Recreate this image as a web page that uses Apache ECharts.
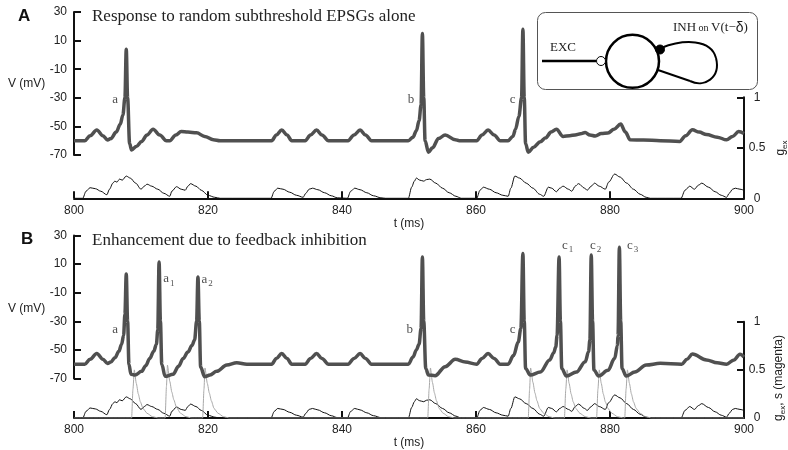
<!DOCTYPE html>
<html>
<head>
<meta charset="utf-8">
<script src="https://cdn.jsdelivr.net/npm/echarts@6/dist/echarts.min.js"></script>
<style>
  html, body { margin: 0; padding: 0; background: #fff; }
  #chart { width: 788px; height: 450px; }
</style>
</head>
<body>
<div id="chart"></div>
<script>
// time window and axis ranges
var tRange = [800, 900, 20];
var vRange = [-70, 30, 20];
var gRange = [0, 1, 0.5];

// V (mV) vs t (ms), panel A: EPSGs alone
var vTraceA = [
  [800, -60], [801.6, -60], [802.4, -56.5], [803.4, -52.5], [804.3, -56.5], [805.0, -59.5],
  [805.5, -58.5], [806.3, -54], [806.9, -48.5], [807.3, -42], [807.6, -30], [807.8, 4],
  [808.0, -30], [808.3, -62], [808.6, -66.5], [809.3, -64], [810.1, -60.5], [810.9, -56],
  [811.8, -52], [812.8, -56], [813.8, -60], [814.3, -60], [815.2, -56], [816.0, -53.5],
  [817.0, -54], [818.3, -54.5], [819.5, -57], [820.8, -59.3], [821.8, -60],
  [829.5, -60], [830.2, -56], [831.0, -52.5], [831.8, -56], [832.5, -60],
  [834.5, -60], [835.3, -56], [836.2, -52.5], [837.0, -56], [838.0, -60],
  [840.9, -60], [841.8, -56], [842.7, -52.5], [843.5, -56], [844.4, -60],
  [849.9, -60], [850.6, -57.5], [851.1, -53], [851.5, -46], [851.8, -35], [852.0, 15],
  [852.2, -30], [852.4, -60], [852.9, -68], [853.5, -65], [854.4, -58.5], [855.4, -56],
  [856.9, -59.3], [857.5, -60], [860.1, -60], [860.9, -56], [861.8, -52.5], [862.7, -56],
  [863.6, -60], [864.8, -60], [865.5, -57], [865.9, -52], [866.4, -43], [866.8, -30],
  [867.0, 18], [867.2, -30], [867.4, -62], [867.8, -68], [868.6, -64.5], [869.6, -60.7],
  [870.4, -58], [871.2, -54], [872.0, -52], [873.0, -57], [874.0, -56.5], [874.8, -56],
  [875.6, -55.2], [876.3, -54.3], [877.0, -56], [877.8, -56.7], [878.7, -55], [879.7, -54.6],
  [880.6, -52], [881.6, -48.4], [882.3, -54], [883.0, -59.4], [885.0, -59.5], [887.5, -60],
  [890.4, -60.5], [891.3, -56.5], [892.3, -52.4], [893.3, -54], [894.4, -55.7], [896.0, -57.5],
  [897.4, -59.4], [898.3, -57], [899.2, -53.6], [900, -55]
];

// V (mV) vs t (ms), panel B: with feedback inhibition
var vTraceB = [
  [800, -60], [801.6, -60], [802.4, -56.5], [803.4, -52.5], [804.3, -56.5], [805.0, -59.5],
  [805.5, -58.5], [806.1, -55.5], [806.7, -51], [807.1, -46], [807.4, -40], [807.6, -25],
  [807.8, 3], [808.0, -30], [808.2, -60], [808.5, -67], [809.1, -67.6], [810.1, -65],
  [810.7, -61], [811.3, -56], [811.9, -51], [812.3, -46], [812.5, -36], [812.7, 11.5],
  [812.9, -30], [813.1, -60], [813.6, -68.5], [814.8, -67], [815.6, -61.5], [816.3, -56],
  [817.0, -51.5], [817.6, -47], [818.0, -43], [818.3, -30], [818.5, 1], [818.7, -30],
  [818.9, -62], [819.5, -68.8], [820.3, -67.5], [821.3, -65], [822.8, -60.6], [824.3, -59],
  [825.8, -60], [829.5, -60], [830.2, -56], [831.0, -52.5], [831.8, -56], [832.5, -60],
  [834.5, -60], [835.3, -56], [836.2, -52.5], [837.0, -56], [838.0, -60],
  [840.9, -60], [841.8, -56], [842.7, -52.5], [843.5, -56], [844.4, -60],
  [849.9, -60], [850.6, -55], [851.1, -50], [851.5, -46], [851.8, -35], [852.0, 15],
  [852.2, -30], [852.5, -63], [852.9, -67.6], [853.9, -68], [855.4, -61.7], [856.9, -56.6],
  [858.4, -58.5], [860.1, -60], [860.9, -56], [861.8, -52.5], [862.7, -56], [863.6, -60],
  [864.8, -60], [865.6, -54], [866.3, -44.5], [866.7, -35], [867.0, 17.5], [867.2, -30],
  [867.4, -63], [868.1, -67.6], [869.6, -65.5], [871.0, -57], [871.6, -52], [871.9, -48],
  [872.1, -40], [872.4, 15], [872.6, -30], [872.8, -63], [873.5, -68.3], [875.0, -65.5],
  [876.3, -58.3], [876.8, -51.3], [877.0, -43], [877.2, 16.4], [877.4, -30], [877.6, -64],
  [878.3, -68.3], [879.7, -64.3], [880.7, -55.9], [881.1, -47], [881.2, -40], [881.4, 21.7],
  [881.6, -30], [881.8, -63], [882.4, -68.3], [883.7, -65.5], [885.4, -60.6], [887.5, -59.4],
  [890.7, -60], [891.5, -56.5], [892.3, -52.9], [894.4, -57], [896.0, -59], [897.4, -60],
  [898.5, -57], [899.4, -53], [900, -55]
];

// excitatory conductance g_ex (same input in A and B)
var gexTrace = [
  [800, 0], [801.3, 0], [801.8, 0.07], [802.4, 0.105], [803.2, 0.095], [804.0, 0.07],
  [804.9, 0.035], [805.3, 0.09], [805.8, 0.15], [806.1, 0.17], [806.4, 0.16], [806.8, 0.19],
  [807.2, 0.18], [807.8, 0.22], [808.4, 0.2], [809.2, 0.15], [810.0, 0.09], [810.5, 0.12],
  [810.9, 0.14], [811.6, 0.12], [812.5, 0.09], [813.4, 0.05], [814.3, 0.02], [814.6, 0.07],
  [815.3, 0.115], [816.0, 0.09], [816.6, 0.08], [817.0, 0.12], [817.4, 0.145], [818.2, 0.12],
  [819.0, 0.08], [820.0, 0.03], [821.0, 0.01], [821.8, 0],
  [829.4, 0], [829.9, 0.07], [830.4, 0.1], [831.2, 0.09], [832.2, 0.06], [833.2, 0.03],
  [834.2, 0.01], [834.6, 0.05], [835.1, 0.09], [835.6, 0.1], [836.4, 0.085], [837.4, 0.055],
  [838.4, 0.025], [839.3, 0.005], [840.8, 0], [841.3, 0.07], [841.9, 0.1], [842.7, 0.085],
  [843.7, 0.055], [844.7, 0.025], [845.8, 0.005], [846.5, 0],
  [849.9, 0], [850.4, 0.11], [850.8, 0.17], [851.1, 0.2], [851.6, 0.18], [852.2, 0.17],
  [852.6, 0.185], [853.1, 0.19], [854.0, 0.15], [855.0, 0.1], [856.0, 0.055], [857.0, 0.02],
  [857.8, 0], [860.1, 0], [860.6, 0.08], [861.1, 0.11], [862.0, 0.09], [863.0, 0.055],
  [864.0, 0.03], [864.8, 0.02], [865.2, 0.1], [865.8, 0.22], [866.5, 0.2], [867.5, 0.15],
  [868.5, 0.1], [869.5, 0.04], [870.1, 0.02], [870.8, 0.11], [871.3, 0.1], [872.0, 0.065],
  [872.5, 0.1], [873.0, 0.12], [873.8, 0.09], [874.3, 0.07], [874.8, 0.12], [875.3, 0.145],
  [876.2, 0.1], [876.6, 0.08], [877.2, 0.12], [877.7, 0.15], [878.4, 0.12], [879.3, 0.09],
  [879.8, 0.16], [880.7, 0.24], [881.5, 0.21], [882.5, 0.15], [883.5, 0.09], [884.5, 0.04],
  [885.4, 0.01], [886.0, 0], [890.6, 0], [891.2, 0.08], [891.9, 0.12], [892.6, 0.09],
  [893.2, 0.13], [893.7, 0.15], [894.7, 0.11], [895.7, 0.065], [896.6, 0.03], [897.4, 0.01],
  [897.8, 0.05], [898.3, 0.09], [898.7, 0.1], [899.4, 0.09], [900, 0.08]
];

// inhibitory synaptic gating s (panel B only)
var sTraceB = [
  [800, 0], [808.6, 0], [808.8, 0.3], [809.0, 0.5], [809.3, 0.36], [809.6, 0.25], [809.9, 0.17],
  [810.3, 0.1], [810.9, 0.05], [811.7, 0.015], [812.6, 0],
  [813.6, 0], [813.8, 0.33], [813.95, 0.55], [814.3, 0.38], [814.6, 0.27], [814.9, 0.19],
  [815.3, 0.11], [815.9, 0.05], [816.7, 0.015], [817.6, 0],
  [819.2, 0], [819.4, 0.3], [819.55, 0.52], [819.9, 0.36], [820.2, 0.26], [820.5, 0.18],
  [820.9, 0.1], [821.5, 0.05], [822.3, 0.015], [823.2, 0],
  [852.8, 0], [853.0, 0.3], [853.2, 0.52], [853.5, 0.37], [853.8, 0.26], [854.1, 0.18],
  [854.5, 0.1], [855.1, 0.05], [855.9, 0.015], [856.8, 0],
  [867.8, 0], [868.0, 0.3], [868.15, 0.52], [868.5, 0.37], [868.8, 0.26], [869.1, 0.18],
  [869.5, 0.1], [870.1, 0.05], [870.9, 0.015], [871.8, 0],
  [873.2, 0], [873.4, 0.3], [873.6, 0.5], [873.9, 0.36], [874.2, 0.25], [874.5, 0.17],
  [874.9, 0.1], [875.5, 0.05], [876.3, 0.015], [877.2, 0],
  [878.0, 0], [878.2, 0.3], [878.4, 0.5], [878.7, 0.36], [879.0, 0.25], [879.3, 0.17],
  [879.7, 0.1], [880.3, 0.05], [881.1, 0.015], [882.0, 0],
  [882.2, 0], [882.4, 0.3], [882.6, 0.5], [882.9, 0.36], [883.2, 0.25], [883.5, 0.17],
  [883.9, 0.1], [884.5, 0.05], [885.3, 0.015], [886.2, 0],
  [900, 0]
];

// spike labels: t, V, letter, subscript
var spikeLabelsA = [[805.8, -31.5, 'a', ''], [849.9, -31.5, 'b', ''], [865.1, -31.5, 'c', '']];
var spikeLabelsB = [
  [805.8, -36, 'a', ''], [813.4, -0.6, 'a', '1'], [819.1, -1.1, 'a', '2'],
  [849.7, -36, 'b', ''], [865.1, -36, 'c', ''],
  [872.9, 22.7, 'c', '1'], [877.1, 22.7, 'c', '2'], [882.6, 22.7, 'c', '3']
];

var sans = 'Liberation Sans, Arial, sans-serif';
var serif = 'Liberation Serif, Times New Roman, serif';
var axisCol = '#111';

var grids = [
  { left: 74, width: 670, top: 12, height: 143 },      // A voltage
  { left: 74, width: 670, top: 97.3, height: 101 },    // A conductance
  { left: 74, width: 670, top: 235.5, height: 143 },   // B voltage
  { left: 74, width: 670, top: 321.7, height: 100 }    // B conductance
];

function xAx(i, shown) {
  return {
    type: 'value', gridIndex: i, min: tRange[0], max: tRange[1], interval: tRange[2],
    show: shown,
    name: 't (ms)', nameLocation: 'middle', nameGap: 9,
    nameTextStyle: { fontFamily: sans, fontSize: 12, color: '#222' },
    axisLine: { show: true, onZero: false, lineStyle: { color: axisCol, width: 2 } },
    axisTick: { inside: true, length: 7, lineStyle: { color: axisCol, width: 2 } },
    axisLabel: { margin: 6, fontFamily: sans, fontSize: 12, color: '#222' },
    splitLine: { show: false }
  };
}
function vAx(i) {
  return {
    type: 'value', gridIndex: i, position: 'left', min: vRange[0], max: vRange[1], interval: vRange[2],
    axisLine: { show: true, onZero: false, lineStyle: { color: axisCol, width: 2 } },
    axisTick: { show: true, inside: true, length: 7, lineStyle: { color: axisCol, width: 2 } },
    axisLabel: { margin: 7, fontFamily: sans, fontSize: 12, color: '#222' },
    splitLine: { show: false }
  };
}
function gAx(i) {
  return {
    type: 'value', gridIndex: i, position: 'right', min: gRange[0], max: gRange[1], interval: gRange[2],
    axisLine: { show: true, onZero: false, lineStyle: { color: axisCol, width: 2 } },
    axisTick: { show: true, inside: true, length: 7, lineStyle: { color: axisCol, width: 2 } },
    axisLabel: { margin: 13, align: 'center', fontFamily: sans, fontSize: 12, color: '#222' },
    splitLine: { show: false }
  };
}

function lineSeries(xi, yi, data, color, width, z, sm) {
  return {
    type: 'line', xAxisIndex: xi, yAxisIndex: yi, data: data,
    showSymbol: false, symbol: 'none', z: z,
    smooth: sm, smoothMonotone: 'x',
    lineStyle: { color: color, width: width, join: 'round' }
  };
}
function labelSeries(xi, yi, list) {
  return {
    type: 'scatter', xAxisIndex: xi, yAxisIndex: yi, symbolSize: 1, z: 5,
    itemStyle: { color: 'transparent' },
    data: list.map(function (d) { return { value: [d[0], d[1]], txt: d[2], sub: d[3] }; }),
    label: {
      show: true, position: [0, 0], align: 'left', verticalAlign: 'middle',
      formatter: function (p) {
        return '{m|' + p.data.txt + '}' + (p.data.sub ? '{s|' + p.data.sub + '}' : '');
      },
      rich: {
        m: { fontFamily: serif, fontSize: 13, color: '#222', lineHeight: 18, verticalAlign: 'middle' },
        s: { fontFamily: serif, fontSize: 9, color: '#222', lineHeight: 18, verticalAlign: 'bottom', padding: [0, 0, 0, 1] }
      }
    }
  };
}

function gName(x, y, tail) {
  return {
    type: 'text', x: x, y: y, rotation: Math.PI / 2,
    style: {
      text: '{m|g}{s|ex}' + (tail ? '{m|' + tail + '}' : ''),
      align: 'center', verticalAlign: 'middle',
      rich: {
        m: { fontFamily: sans, fontSize: 12, fill: '#222', lineHeight: 16, verticalAlign: 'middle' },
        s: { fontFamily: sans, fontSize: 8, fill: '#222', lineHeight: 16, verticalAlign: 'bottom' }
      }
    }
  };
}

var chart = echarts.init(document.getElementById('chart'), null, { renderer: 'canvas' });
chart.setOption({
  animation: false,
  backgroundColor: '#fff',
  grid: grids,
  xAxis: [xAx(0, false), xAx(1, true), xAx(2, false), xAx(3, true)],
  yAxis: [vAx(0), gAx(1), vAx(2), gAx(3)],
  series: [
    lineSeries(1, 1, gexTrace, '#111', 1, 2, 0.3),
    lineSeries(0, 0, vTraceA, '#505050', 3.5, 3, 0.35),
    labelSeries(0, 0, spikeLabelsA),
    lineSeries(3, 3, gexTrace, '#111', 1, 2, 0.3),
    lineSeries(3, 3, sTraceB, '#a8a8a8', 1, 2, 0.2),
    lineSeries(2, 2, vTraceB, '#505050', 3.5, 3, 0.35),
    labelSeries(2, 2, spikeLabelsB)
  ],
  graphic: { elements: [
    { type: 'text', x: 18, y: 16, style: { text: 'A', font: 'bold 17px ' + sans, fill: '#111', verticalAlign: 'middle' } },
    { type: 'text', x: 21, y: 239, style: { text: 'B', font: 'bold 17px ' + sans, fill: '#111', verticalAlign: 'middle' } },
    { type: 'text', x: 92, y: 17, style: { text: 'Response to random subthreshold EPSGs alone', font: '17px ' + serif, fill: '#222', verticalAlign: 'middle' } },
    { type: 'text', x: 92, y: 241, style: { text: 'Enhancement due to feedback inhibition', font: '17px ' + serif, fill: '#222', verticalAlign: 'middle' } },
    { type: 'text', x: 8, y: 84, style: { text: 'V (mV)', font: '12px ' + sans, fill: '#222', verticalAlign: 'middle' } },
    { type: 'text', x: 8, y: 309, style: { text: 'V (mV)', font: '12px ' + sans, fill: '#222', verticalAlign: 'middle' } },
    gName(781, 148, ''),
    gName(779, 378, ', s (magenta)'),
    // inset: circuit sketch
    { type: 'rect', z: 10, shape: { x: 537.5, y: 12.5, width: 220, height: 77, r: 8 },
      style: { fill: '#fff', stroke: '#555', lineWidth: 1 } },
    { type: 'line', z: 11, shape: { x1: 542, y1: 61, x2: 596, y2: 61 }, style: { stroke: '#000', lineWidth: 2.5 } },
    { type: 'bezierCurve', z: 11, shape: { x1: 661, y1: 48, cpx1: 684, cpy1: 39, cpx2: 711, cpy2: 39, x2: 716, y2: 58 },
      style: { fill: null, stroke: '#000', lineWidth: 2 } },
    { type: 'bezierCurve', z: 11, shape: { x1: 716, y1: 58, cpx1: 721, cpy1: 78, cpx2: 704, cpy2: 88, x2: 690, y2: 81 },
      style: { fill: null, stroke: '#000', lineWidth: 2 } },
    { type: 'line', z: 11, shape: { x1: 690, y1: 81, x2: 658, y2: 70 }, style: { stroke: '#000', lineWidth: 2 } },
    { type: 'circle', z: 11, shape: { cx: 632.5, cy: 61.3, r: 26.5 }, style: { fill: null, stroke: '#000', lineWidth: 2.5 } },
    { type: 'circle', z: 12, shape: { cx: 601, cy: 61, r: 4.5 }, style: { fill: '#fff', stroke: '#000', lineWidth: 1 } },
    { type: 'circle', z: 12, shape: { cx: 660, cy: 49.5, r: 4.5 }, style: { fill: '#000', stroke: '#000', lineWidth: 1 } },
    { type: 'text', z: 12, x: 550, y: 48, style: { text: 'EXC', font: '13px ' + serif, fill: '#222', verticalAlign: 'middle' } },
    { type: 'text', z: 12, x: 673, y: 28, style: {
      text: '{a|INH}{b| on }{a|V(t\u2212}{d|\u03b4}{a|)}', verticalAlign: 'middle',
      rich: {
        a: { fontFamily: serif, fontSize: 13, fill: '#222', lineHeight: 18, verticalAlign: 'middle' },
        b: { fontFamily: serif, fontSize: 10, fill: '#222', lineHeight: 18, verticalAlign: 'middle' },
        d: { fontFamily: sans, fontSize: 14, fill: '#222', lineHeight: 18, verticalAlign: 'middle' }
      } } }
  ] }
});
</script>
</body>
</html>
